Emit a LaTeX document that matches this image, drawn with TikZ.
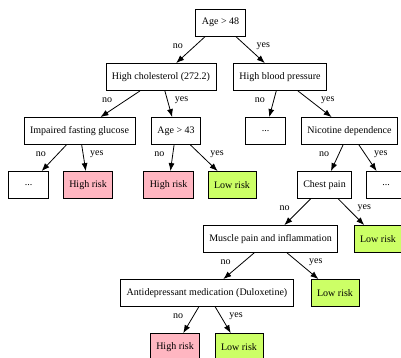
\documentclass[tikz,border=0pt]{standalone}
\usepackage{fontspec}
\setmainfont{Liberation Serif}
\usetikzlibrary{arrows.meta}
\definecolor{highrisk}{RGB}{255,182,193}
\definecolor{lowrisk}{RGB}{204,255,102}

\begin{document}
\begin{tikzpicture}[x=1pt,y=1pt,yscale=-1,xscale=1,
        box/.style={draw, line width=0.8pt, minimum height=27pt, minimum width=40pt, inner xsep=6pt, font=\fontsize{10}{12}\selectfont},
        high/.style={box, fill=highrisk},
        low/.style={box, fill=lowrisk},
        edge/.style={line width=0.8pt, -{Latex[length=8pt,width=6pt]}},
        nolab/.style={midway, xshift=-13pt, yshift=4pt, font=\fontsize{10}{12}\selectfont},
        yeslab/.style={midway, xshift=13pt, yshift=4pt, font=\fontsize{10}{12}\selectfont}]
        \useasboundingbox (0,0) rectangle (401,358);
        \clip (0,0) rectangle (401,358);

        % Decision Nodes
        \node [box] (age48) at (220.5,22.5) {Age > 48};
        \node [box] (chol) at (161,77) {High cholesterol (272.2)};
        \node [box] (hbp) at (280,77) {High blood pressure};
        \node [box] (ifg) at (79.5,131) {Impaired fasting glucose};
        \node [box] (age43) at (176,131) {Age > 43};
        \node [box] (dotsa) at (265.5,131) {...};
        \node [box] (nicotine) at (349.5,131) {Nicotine dependence};
        \node [box] (dotsb) at (28.5,185) {...};
        \node [high] (higha) at (88,185) {High risk};
        \node [high] (highb) at (168.5,185) {High risk};
        \node [low] (lowa) at (232,185) {Low risk};
        \node [box] (chest) at (324.5,185) {Chest pain};
        \node [box] (dotsc) at (386,185) {...};
        \node [box] (muscle) at (270.5,239) {Muscle pain and inflammation};
        \node [low] (lowb) at (378,239) {Low risk};
        \node [box] (antidep) at (207,293) {Antidepressant medication (Duloxetine)};
        \node [low] (lowc) at (335,293) {Low risk};
        \node [high] (highc) at (175,347) {High risk};
        \node [low] (lowd) at (239,347) {Low risk};

        % Edges
        \draw [edge] (age48) -- (chol) node [nolab] {no};
        \draw [edge] (age48) -- (hbp) node [yeslab] {yes};
        \draw [edge] (chol) -- (ifg) node [nolab] {no};
        \draw [edge] (chol) -- (age43) node [yeslab] {yes};
        \draw [edge] (hbp) -- (dotsa) node [nolab] {no};
        \draw [edge] (hbp) -- (nicotine) node [yeslab] {yes};
        \draw [edge] (ifg) -- (dotsb) node [nolab] {no};
        \draw [edge] (ifg) -- (higha) node [yeslab] {yes};
        \draw [edge] (age43) -- (highb) node [nolab] {no};
        \draw [edge] (age43) -- (lowa) node [yeslab] {yes};
        \draw [edge] (nicotine) -- (chest) node [nolab] {no};
        \draw [edge] (nicotine) -- (dotsc) node [yeslab] {yes};
        \draw [edge] (chest) -- (muscle) node [nolab] {no};
        \draw [edge] (chest) -- (lowb) node [yeslab] {yes};
        \draw [edge] (muscle) -- (antidep) node [nolab] {no};
        \draw [edge] (muscle) -- (lowc) node [yeslab] {yes};
        \draw [edge] (antidep) -- (highc) node [nolab] {no};
        \draw [edge] (antidep) -- (lowd) node [yeslab] {yes};

    \end{tikzpicture}
\end{document}
